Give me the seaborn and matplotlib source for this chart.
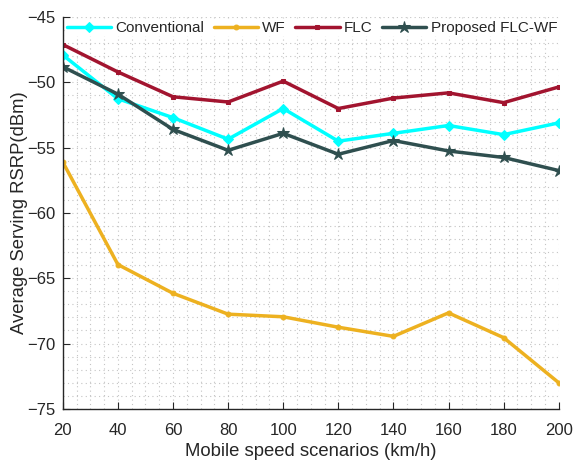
import matplotlib
matplotlib.use("Agg")
import matplotlib.pyplot as plt
import seaborn as sns
import pandas as pd
from matplotlib.ticker import MultipleLocator

speeds = [20, 40, 60, 80, 100, 120, 140, 160, 180, 200]
conventional = [-47.9, -51.25, -52.7, -54.35, -52.0, -54.5, -53.9, -53.3, -54.0, -53.1]
wf = [-56.1, -63.95, -66.15, -67.75, -67.95, -68.75, -69.45, -67.65, -69.55, -73.0]
flc = [-47.1, -49.2, -51.1, -51.5, -49.9, -52.0, -51.2, -50.8, -51.55, -50.35]
proposed = [-48.8, -50.9, -53.6, -55.2, -53.9, -55.5, -54.45, -55.25, -55.75, -56.75]
series_names = ["Conventional", "WF", "FLC", "Proposed FLC-WF"]
x_ticks = [20, 40, 60, 80, 100, 120, 140, 160, 180, 200]
y_ticks = [-75, -70, -65, -60, -55, -50, -45]

sns.set_style("white")
plt.rcParams['font.family'] = ['Liberation Sans', 'DejaVu Sans']

rows = []
for name, vals in zip(series_names, [conventional, wf, flc, proposed]):
    for s, v in zip(speeds, vals):
        rows.append({"speed": s, "rsrp": v, "series": name})
df = pd.DataFrame(rows)

colors = {"Conventional": "#00FFFF", "WF": "#EDB120", "FLC": "#A2142F",
          "Proposed FLC-WF": "#2F4F4F"}
markers = {"Conventional": "D", "WF": "o", "FLC": "s", "Proposed FLC-WF": "*"}
msizes = {"Conventional": 5, "WF": 3.5, "FLC": 3.5, "Proposed FLC-WF": 9}

fig = plt.figure(figsize=(5.76, 4.63), dpi=100)
ax = fig.add_axes([0.109, 0.117, 0.861, 0.846])

for name in series_names:
    sub = df[df.series == name]
    sns.lineplot(data=sub, x="speed", y="rsrp", ax=ax, color=colors[name],
                 marker=markers[name], markersize=msizes[name], linewidth=2.5,
                 markeredgecolor=colors[name], label=name)

ax.set_xlim(20, 200)
ax.set_ylim(-75, -45)
ax.set_xticks(x_ticks)
ax.set_yticks(y_ticks)
ax.xaxis.set_minor_locator(MultipleLocator(5))
ax.yaxis.set_minor_locator(MultipleLocator(1))
ax.grid(which="both", linestyle=(0, (1, 3)), color="#c4c4c4", linewidth=0.8)
ax.set_axisbelow(True)
for side in ["top", "right"]:
    ax.spines[side].set_visible(False)
for side in ["left", "bottom"]:
    ax.spines[side].set_color("#262626")
    ax.spines[side].set_linewidth(1.0)
ax.tick_params(which="major", direction="in", length=5, width=0.8, labelsize=12,
               colors="#262626", bottom=True, left=True)
ax.tick_params(axis="x", which="major", pad=10)
ax.tick_params(axis="y", which="major", pad=5)
ax.tick_params(which="minor", length=0)
ax.set_xlabel("Mobile speed scenarios (km/h)", fontsize=13.3, color="#262626",
              labelpad=4)
ax.set_ylabel("Average Serving RSRP(dBm)", fontsize=13.3, color="#262626",
              labelpad=0)

leg = ax.legend(loc="upper left", bbox_to_anchor=(0.0, 1.0), ncol=4,
                frameon=True, fontsize=11, handlelength=2.9,
                columnspacing=0.6, handletextpad=0.3,
                borderaxespad=0.15, borderpad=0.1, fancybox=False)
leg.get_frame().set_edgecolor("none")
leg.get_frame().set_facecolor("white")
leg.get_frame().set_alpha(1.0)

fig.savefig("out.png", dpi=100)
